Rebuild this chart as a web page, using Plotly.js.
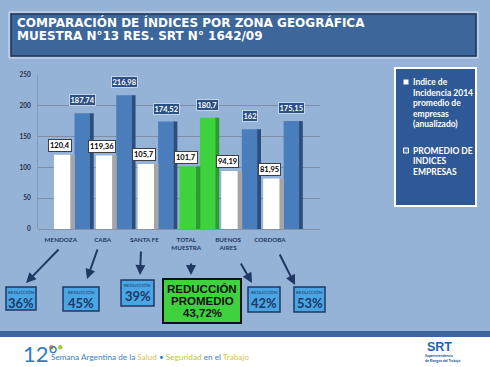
<!DOCTYPE html>
<html>
<head>
<meta charset="utf-8">
<script src="https://cdn.plot.ly/plotly-3.0.1.min.js"></script>
<style>
html,body{margin:0;padding:0;background:#95b3d7;}
#chart{width:490px;height:367px;}
</style>
</head>
<body>
<div id="chart"></div>
<script>
// ---- data ----
const categories = ['MENDOZA','CABA','SANTA FE','TOTAL MUESTRA','BUENOS AIRES','CORDOBA'];
const tickLabels = ['MENDOZA','CABA','SANTA FE','TOTAL<br>MUESTRA','BUENOS<br>AIRES','CORDOBA'];
const indiceIncidencia2014 = [120.4, 119.36, 105.7, 101.7, 94.19, 81.95];
const promedioIndicesEmpresas = [187.74, 216.98, 174.52, 180.7, 162, 175.15];
const reduccion = [36, 45, 39, 43.72, 42, 53];
const totalIndex = 3;
const legendLines1 = ['Indice de','Incidencia 2014','promedio de','empresas','(anualizado)'];
const legendLines2 = ['PROMEDIO DE','INDICES','EMPRESAS'];

// ---- layout helpers (pixel -> paper) ----
const L = 38, R = 320, T = 75, B = 229;
const fx = p => (p - L) / (R - L);
const fy = p => (B - p) / (B - T);
const fmt = v => String(v).replace('.', ',');
const xs = categories.map((c, i) => i);

const colWhite = xs.map(i => i === totalIndex ? '#3fd23f' : '#ffffff');
const colWhiteSide = xs.map(i => i === totalIndex ? '#2a9e2a' : '#a5a5a5');
const colBlue = xs.map(i => i === totalIndex ? '#3fd23f' : '#4a7dbc');
const colBlueSide = xs.map(i => i === totalIndex ? '#2a9e2a' : '#2c4e7c');

const traces = [
  {type:'bar', x: xs, y: promedioIndicesEmpresas, offset: 0.40, width: 0.10,
   marker:{color: colBlueSide, line:{width:0}}, showlegend:false, hoverinfo:'skip'},
  {type:'bar', x: xs, y: promedioIndicesEmpresas, offset: 0.04, width: 0.37,
   name:'PROMEDIO DE INDICES EMPRESAS', marker:{color: colBlue, line:{width:0}}, showlegend:false},
  {type:'bar', x: xs, y: indiceIncidencia2014, offset: -0.06, width: 0.11,
   marker:{color: colWhiteSide, line:{width:0}}, showlegend:false, hoverinfo:'skip'},
  {type:'bar', x: xs, y: indiceIncidencia2014, offset: -0.45, width: 0.39,
   name:'Indice de Incidencia 2014 promedio de empresas (anualizado)',
   marker:{color: colWhite, line:{width:0}}, showlegend:false}
];

const shapes = [
  // footer
  {type:'rect', xref:'paper', yref:'paper', x0: fx(0), x1: fx(490), y0: fy(331), y1: fy(337), fillcolor:'#3e659c', line:{width:0}, layer:'below'},
  {type:'rect', xref:'paper', yref:'paper', x0: fx(0), x1: fx(490), y0: fy(337), y1: fy(368), fillcolor:'#ffffff', line:{width:0}, layer:'below'},
  // title box
  {type:'rect', xref:'paper', yref:'paper', x0: fx(9), x1: fx(478), y0: fy(12), y1: fy(58), fillcolor:'rgba(0,0,0,0)', line:{color:'#d6e0ee', width:1}},
  {type:'rect', xref:'paper', yref:'paper', x0: fx(11), x1: fx(476), y0: fy(14), y1: fy(56), fillcolor:'#3d679a', line:{color:'#1c3457', width:1.5}},
  // legend box
  {type:'rect', xref:'paper', yref:'paper', x0: fx(395), x1: fx(476), y0: fy(68), y1: fy(206), fillcolor:'#2f5896', line:{color:'#ffffff', width:2}},
  {type:'rect', xref:'paper', yref:'paper', x0: fx(403.5), x1: fx(408.5), y0: fy(79.5), y1: fy(84.5), fillcolor:'#ffffff', line:{width:0}},
  {type:'rect', xref:'paper', yref:'paper', x0: fx(403.5), x1: fx(408.5), y0: fy(148), y1: fy(153), fillcolor:'#4a7dbc', line:{color:'#ffffff', width:1}},
  // footer dots
  {type:'circle', xref:'paper', yref:'paper', x0: fx(49), x1: fx(53.5), y0: fy(345), y1: fy(349.5), fillcolor:'#f0883a', line:{width:0}},
  {type:'circle', xref:'paper', yref:'paper', x0: fx(58), x1: fx(62.5), y0: fy(345), y1: fy(349.5), fillcolor:'#a8c83c', line:{width:0}}
];

const annotations = [];
function txt(px, py, text, font, xanchor) {
  annotations.push({xref:'paper', yref:'paper', x: fx(px), y: fy(py), xanchor: xanchor || 'center', yanchor:'middle',
    align: 'left', showarrow:false, text: text, font: font});
}
// title
const titleFont = {family:'DejaVu Sans', size:12, color:'#ffffff'};
txt(15, 22.3, '<b>COMPARACIÓN DE ÍNDICES POR ZONA GEOGRÁFICA</b>', titleFont, 'left');
txt(15, 36.2, '<b>MUESTRA N°13 RES. SRT N° 1642/09</b>', titleFont, 'left');

// legend text
const legFont = {family:'Lato', size:8.5, color:'#ffffff'};
legendLines1.forEach((s, k) => txt(410.5, 82 + k * 10.6, '<b>' + s + '</b>', legFont, 'left'));
legendLines2.forEach((s, k) => txt(410.5, 150.5 + k * 10.7, '<b>' + s + '</b>', legFont, 'left'));

// data labels
xs.forEach(i => {
  annotations.push({x: i - 0.30, y: indiceIncidencia2014[i], xref:'x', yref:'y', yshift: 9, showarrow:false,
    xanchor:'center', yanchor:'middle',
    text:'<b>' + fmt(indiceIncidencia2014[i]) + '</b>', bgcolor:'#ffffff', bordercolor:'#404040', borderwidth:1, borderpad:1,
    font:{family:'Lato', size:7.5, color:'#000000'}});
  annotations.push({x: i + 0.23, y: promedioIndicesEmpresas[i], xref:'x', yref:'y', yshift: 13, showarrow:false,
    xanchor:'center', yanchor:'middle',
    text:'<b>' + fmt(promedioIndicesEmpresas[i]) + '</b>', bgcolor:'#2b5185', bordercolor:'#c6d4e8', borderwidth:1, borderpad:0.5,
    font:{family:'Lato', size:7.5, color:'#ffffff'}});
});

// arrows (head px, tail offset)
const arrowHeads = [[26,283],[87,279],[140,275],[191,275],[252,283],[295,285]];
const arrowTails = [[34,-35],[11,-31],[1,-25],[0,-13],[-12,-21],[-16,-32]];
arrowHeads.forEach((h, i) => {
  annotations.push({xref:'paper', yref:'paper', x: fx(h[0]), y: fy(h[1]), ax: arrowTails[i][0], ay: arrowTails[i][1],
    text:'', showarrow:true, arrowhead:2, arrowsize:1, arrowwidth:2, arrowcolor:'#1f3864'});
});

// reduction boxes
const boxes = [[6,36,287,310],[63,99,287,311],[121,154,280,306],[163,241,279,323],[248,280,287,312],[294,325,287,312]];
boxes.forEach((b, i) => {
  const cx = (b[0] + b[1]) / 2;
  if (i === totalIndex) {
    shapes.push({type:'rect', xref:'paper', yref:'paper', x0: fx(b[0]), x1: fx(b[1]), y0: fy(b[2]), y1: fy(b[3]), fillcolor:'#3fd23f', line:{color:'#111111', width:2}});
    const gf = {family:'Liberation Sans, Arial', size:11.5, color:'#111111'};
    txt(cx, 288.5, '<b>REDUCCIÓN</b>', gf);
    txt(cx, 300.5, '<b>PROMEDIO</b>', gf);
    txt(cx, 312.5, '<b>' + fmt(reduccion[i]) + '%</b>', gf);
  } else {
    shapes.push({type:'rect', xref:'paper', yref:'paper', x0: fx(b[0]), x1: fx(b[1]), y0: fy(b[2]), y1: fy(b[3]), fillcolor:'#4aa5e4', line:{color:'#1f3864', width:1.5}});
    txt(cx, b[2] + 5, 'REDUCCIÓN', {family:'Lato', size:4.5, color:'#1f3864'});
    txt(cx, b[2] + 16, '<b>' + fmt(reduccion[i]) + '%</b>', {family:'Lato', size:13, color:'#1f3864'});
  }
});

// footer text
txt(21, 353, '12°', {family:'Lato', size:22, color:'#2f7dc1'}, 'left');
txt(49, 357, '<span style="color:#3a7fc2">Semana Argentina de la </span><span style="color:#d4c655">Salud</span><span style="color:#3a7fc2"> • </span><span style="color:#bcc840">Seguridad</span><span style="color:#3a7fc2"> en el </span><span style="color:#d8c25e">Trabajo</span>',
  {family:'Lato', size:8.2, color:'#3a7fc2'}, 'left');
txt(439, 347, '<b>SRT</b>', {family:'Liberation Sans, Arial', size:12.5, color:'#1e63b0'});
txt(442, 357.5, '<b>Superintendencia<br>de Riesgos del Trabajo</b>', {family:'Lato', size:3.6, color:'#1e4f8f'});

const layout = {
  width: 490, height: 367,
  margin: {l: L, r: 490 - R, t: T, b: 367 - B, pad: 0},
  paper_bgcolor: '#95b3d7', plot_bgcolor: 'rgba(0,0,0,0)',
  barmode: 'overlay', showlegend: false,
  xaxis: {range: [-0.832, 5.91], tickvals: xs, ticktext: tickLabels, showgrid: false, zeroline: false,
          showline: false, ticks: '', ticklabelshift: -12, ticklabelstandoff: 6,
          tickfont: {family: 'Lato', size: 6.3, color: '#1f3864', weight: 'bold'}},
  yaxis: {range: [0, 250], tickvals: [0, 50, 100, 150, 200, 250], showgrid: true, gridcolor: '#7f8ea6', gridwidth: 1,
          zeroline: true, zerolinecolor: '#8593aa', showline: true, linecolor: '#8a98ae', ticks: '', ticklabelstandoff: 5,
          tickfont: {family: 'Lato', size: 6.5, color: '#1f2f4a', weight: 'bold'}},
  shapes: shapes,
  annotations: annotations
};

Plotly.newPlot('chart', traces, layout, {displayModeBar: false, staticPlot: true});
</script>
</body>
</html>
